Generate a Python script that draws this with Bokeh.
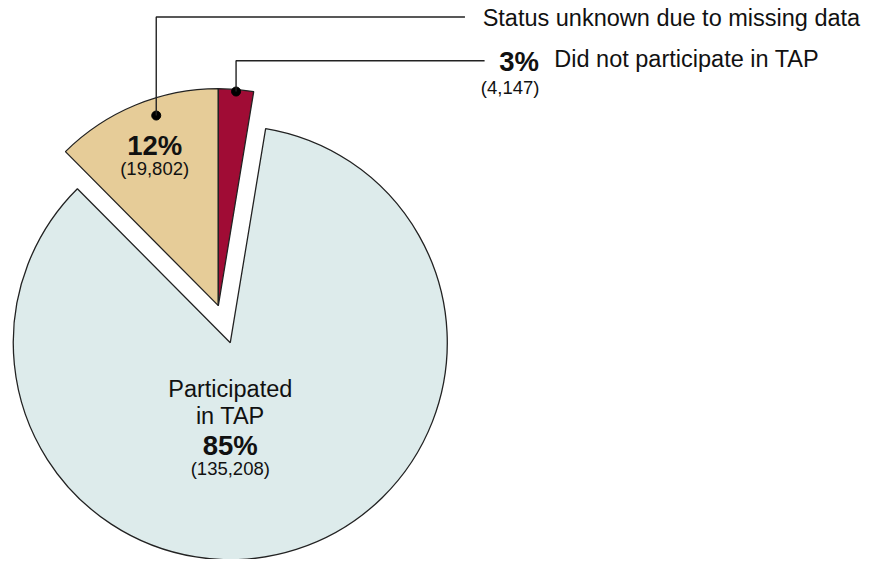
import numpy as np
from bokeh.plotting import figure
from bokeh.models import ColumnDataSource, Range1d
from bokeh.core.properties import value
from bokeh.embed import file_html
from bokeh.resources import INLINE

# ---- data ----
categories = ["Participated in TAP", "Status unknown due to missing data", "Did not participate in TAP"]
counts = [135208, 19802, 4147]
pct_labels = ["85%", "12%", "3%"]
count_labels = ["(135,208)", "(19,802)", "(4,147)"]
colors = ["#DDEBEB", "#E6CC98", "#A00C35"]

FONT = value("Liberation Sans")
INK = "#111111"

total = float(sum(counts))
frac = np.array(counts, dtype=float) / total
ang = 2 * np.pi * frac

# ---- figure (data coords: x = reference px, y = 575 - reference px) ----
p = figure(width=870, height=559, x_range=Range1d(0, 886), y_range=Range1d(0, 575),
           output_backend="svg", toolbar_location=None, min_border=0)
p.axis.visible = False
p.grid.visible = False
p.outline_line_color = None
p.background_fill_color = "white"
p.border_fill_color = "white"

R = 221
cx, cy = 234, 223
top = np.pi / 2

# angles
red_start, red_end = top - ang[2], top
tan_start, tan_end = top, top + ang[1]
main_start, main_end = top + ang[1], top - ang[2] + 2 * np.pi

# exploded small slices
mid = (red_start + tan_end) / 2
ex = 40
cx2, cy2 = cx + ex * np.cos(mid), cy + ex * np.sin(mid)

src = ColumnDataSource(dict(
    x=[cx, cx2, cx2], y=[cy, cy2, cy2],
    start=[main_start, tan_start, red_start],
    end=[main_end, tan_end, red_end],
    color=colors, cat=categories,
))
p.wedge(x="x", y="y", radius=R, start_angle="start", end_angle="end",
        fill_color="color", line_color="#222222", line_width=1.3, source=src)

# callout dots
a_tan = top + 0.4 * ang[1]
a_red = top - 0.5 * ang[2]
dot_x = [cx2 + 0.93 * R * np.cos(a_tan), cx2 + R * np.cos(a_red)]
dot_y = [cy2 + 0.93 * R * np.sin(a_tan), cy2 + R * np.sin(a_red)]
p.scatter(dot_x, dot_y, size=9, color="black")

# callout lines
status_line_y = 558
red_line_y = 513
p.line([dot_x[0], dot_x[0], 473], [dot_y[0], status_line_y, status_line_y], line_color="#222222", line_width=1.4)
p.line([dot_x[1], dot_x[1], 493], [dot_y[1], red_line_y, red_line_y], line_color="#222222", line_width=1.4)

# labels
def txt(x, y, s, size, bold=False, align="center"):
    p.text(x=[x], y=[y], text=[s], text_font=FONT, text_font_size=f"{size}px",
           text_font_style="bold" if bold else "normal", text_color=INK,
           text_align=align, text_baseline="middle")

txt(491, 557, categories[1], 23.5, align="left")
txt(508, 512, pct_labels[2], 27.5, bold=True, align="left")
txt(564, 515, categories[2], 23.5, align="left")
txt(519, 485, count_labels[2], 18.5)

txt(157, 426, pct_labels[1], 27.5, bold=True)
txt(157, 402, count_labels[1], 18.5)

txt(234, 175, "Participated", 23.5)
txt(234, 148, "in TAP", 23.5)
txt(234, 117, pct_labels[0], 27.5, bold=True)
txt(234, 94, count_labels[0], 18.5)

open("out.html", "w").write(file_html(p, INLINE))
